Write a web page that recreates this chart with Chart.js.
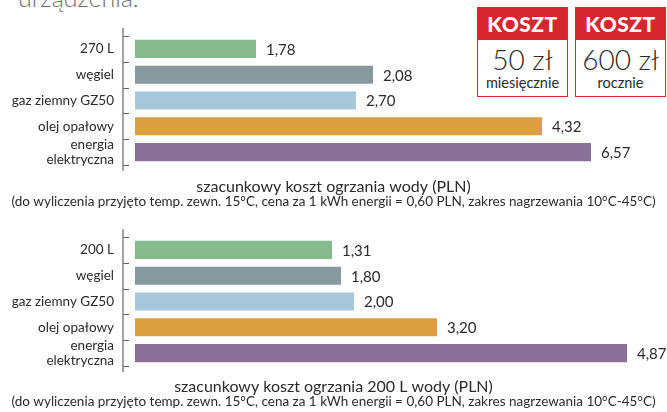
<!DOCTYPE html>
<html>
<head>
<meta charset="utf-8">
<script src="https://cdn.jsdelivr.net/npm/chart.js@4/dist/chart.umd.min.js"></script>
<style>
    body { margin: 0; background: #fff; font-family: 'Lato', sans-serif; }
    #wrap { position: relative; width: 667px; height: 412px; overflow: hidden; }
    .head { position: absolute; left: 18px; top: -18px; font-size: 25px; color: #707070; font-weight: 300; }
    canvas { position: absolute; left: 0; }
    .box { position: absolute; top: 7px; width: 89px; height: 88px; border: 1.5px solid #e0262f; background: #fff; text-align: center; color: #2b2b2b; }
    .box .hd { background: #d8262f; color: #fff; font-weight: 900; font-size: 21px; letter-spacing: 0.5px; height: 32px; line-height: 32px; }
    .box .big { font-size: 28px; line-height: 30px; margin-top: 4px; font-weight: 300; }
    .box .small { font-size: 14.5px; line-height: 17px; }
</style>
</head>
<body>
<div id="wrap">
    <div class="head">urządzenia.</div>
    <canvas id="c1" width="667" height="215" style="top:0"></canvas>
    <canvas id="c2" width="667" height="204" style="top:212px"></canvas>
    <div class="box" style="left:477px">
        <div class="hd">KOSZT</div>
        <div class="big">50 zł</div>
        <div class="small">miesięcznie</div>
    </div>
    <div class="box" style="left:575px">
        <div class="hd">KOSZT</div>
        <div class="big">600 zł</div>
        <div class="small">rocznie</div>
    </div>
</div>
<script>
// categories
const labels1 = ['270 L', 'węgiel', 'gaz ziemny GZ50', 'olej opałowy', ['energia', 'elektryczna']];
const labels2 = ['200 L', 'węgiel', 'gaz ziemny GZ50', 'olej opałowy', ['energia', 'elektryczna']];

// printed values
const values1 = ['1,78', '2,08', '2,70', '4,32', '6,57'];
const values2 = ['1,31', '1,80', '2,00', '3,20', '4,87'];

// bar lengths as drawn in the source (not proportional to the printed values)
const barLen1 = [121, 238, 221, 407, 456];
const barLen2 = [197, 206, 219, 302, 492];

const barColors = ['#86bb8d', '#87999f', '#a6c8da', '#dc9f40', '#8b7097'];

const title1 = 'szacunkowy koszt ogrzania wody (PLN)';
const title2 = 'szacunkowy koszt ogrzania 200 L wody (PLN)';
const note = '(do wyliczenia przyjęto temp. zewn. 15°C, cena za 1 kWh energii = 0,60 PLN, zakres nagrzewania 10°C-45°C)';

const FONT = "'Lato', sans-serif";
const TEXT = '#2b2b2b';

const axisPlugin = {
    id: 'axisPlugin',
    afterDraw(chart) {
        const ctx = chart.ctx;
        const area = chart.chartArea;
        const y = chart.scales.y;
        const x0 = area.left;
        ctx.save();
        ctx.strokeStyle = '#666';
        ctx.lineWidth = 1.2;
        ctx.beginPath();
        ctx.moveTo(x0, area.top - 8);
        ctx.lineTo(x0, area.bottom + 6);
        for (let i = 0; i <= chart.data.labels.length; i++) {
            const py = Math.round(y.getPixelForValue(i - 0.5)) + 0.5;
            ctx.moveTo(x0, py);
            ctx.lineTo(x0 + 6, py);
        }
        ctx.stroke();
        ctx.restore();
    }
};

const valuePlugin = {
    id: 'valuePlugin',
    afterDatasetsDraw(chart, args, opts) {
        const ctx = chart.ctx;
        const meta = chart.getDatasetMeta(0);
        ctx.save();
        ctx.font = '15px ' + FONT;
        ctx.fillStyle = TEXT;
        ctx.textBaseline = 'middle';
        meta.data.forEach((bar, i) => {
            ctx.fillText(opts.values[i], bar.x + 10, bar.y + 1);
        });
        ctx.restore();
    }
};

function makeChart(id, labels, lengths, values, title, pad) {
    return new Chart(document.getElementById(id), {
        type: 'bar',
        data: {
            labels: labels,
            datasets: [{
                data: lengths,
                backgroundColor: barColors,
                barPercentage: 0.7,
                categoryPercentage: 1
            }]
        },
        options: {
            indexAxis: 'y',
            responsive: false,
            animation: false,
            layout: { padding: { top: pad.top, bottom: pad.bottom, left: 0, right: 0 } },
            scales: {
                x: { display: false, min: -12, max: 532 },
                y: {
                    offset: true,
                    grid: { display: false, drawTicks: false },
                    border: { display: false },
                    ticks: {
                        padding: 9, autoSkip: false, color: TEXT,
                        font: { family: FONT, size: 13.5, lineHeight: 1.05 }
                    },
                    afterFit: (s) => { s.width = 123; }
                }
            },
            plugins: {
                legend: { display: false },
                tooltip: { enabled: false },
                title: {
                    display: true,
                    position: 'bottom',
                    text: title,
                    weight: 1000,
                    color: TEXT,
                    font: { family: FONT, size: 16, weight: 'normal', lineHeight: 1 },
                    padding: { top: pad.titleTop, bottom: 0 }
                },
                subtitle: {
                    display: true,
                    position: 'bottom',
                    text: note,
                    weight: 1500,
                    color: TEXT,
                    font: { family: FONT, size: 13.5, lineHeight: 1 },
                    padding: { top: pad.subTop, bottom: 4 }
                },
                valuePlugin: { values: values }
            }
        },
        plugins: [axisPlugin, valuePlugin]
    });
}

makeChart('c1', labels1, barLen1, values1, title1, { top: 36, bottom: 2.5, titleTop: 14, subTop: 0 });
makeChart('c2', labels2, barLen2, values2, title2, { top: 25, bottom: 3.5, titleTop: 13, subTop: 0 });
</script>
</body>
</html>
